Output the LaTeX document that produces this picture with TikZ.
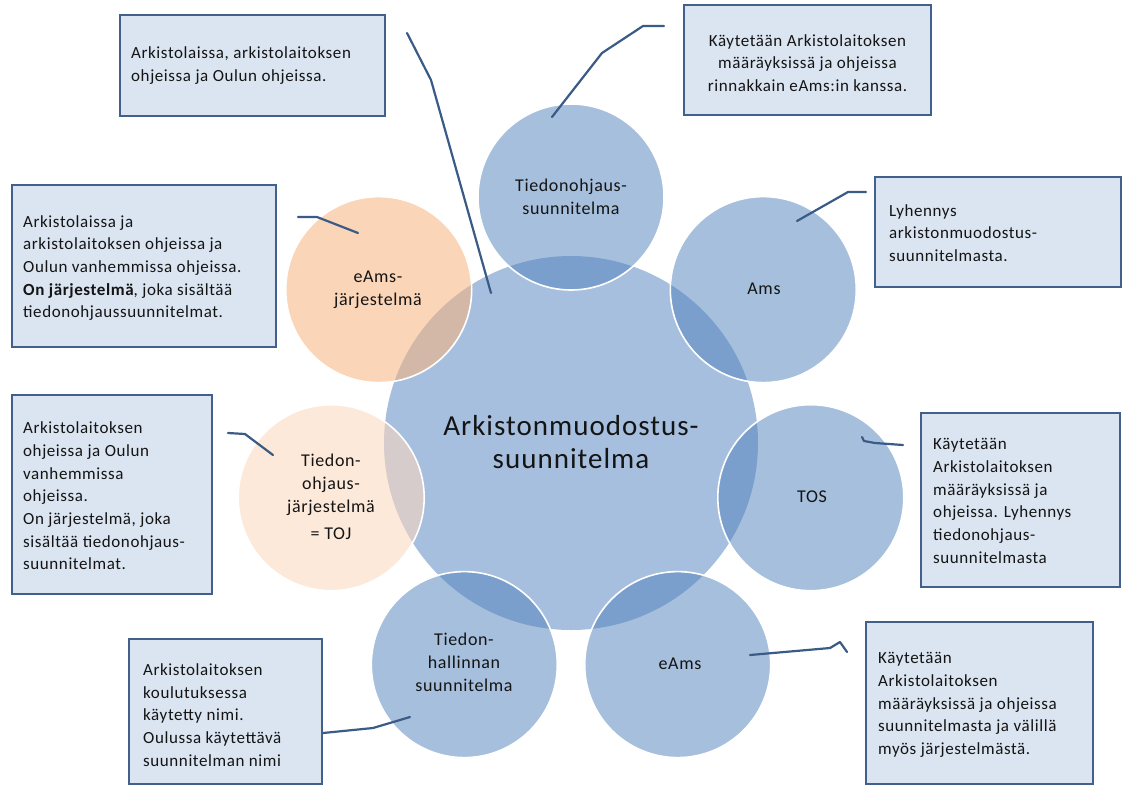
\documentclass[tikz,border=0pt]{standalone}
\usepackage{fontspec}
\setmainfont{Carlito}[LetterSpace=3.5]
\definecolor{hubfill}{HTML}{A7BFDE}
\definecolor{ringblue}{HTML}{4F81BD}
\definecolor{ringorange}{HTML}{F8B47C}
\definecolor{ringpeach}{HTML}{FBD7BC}
\definecolor{notefill}{HTML}{DBE5F1}
\definecolor{notedraw}{HTML}{41608C}
\definecolor{leader}{HTML}{3B5B87}
\definecolor{ink}{HTML}{141414}
\tikzset{
  hub/.style={circle, fill=hubfill, minimum size=374pt, inner sep=0pt},
  petal/.style={circle, minimum size=186pt, inner sep=0pt, draw=white, line width=1.6pt,
                fill opacity=0.5, text opacity=1, fill=ringblue},
  petalA/.style={petal, fill=ringorange, fill opacity=0.55},
  petalB/.style={petal, fill=ringpeach, fill opacity=0.55},
  plabel/.style={align=center, text=ink, font=\fontsize{18}{23}\selectfont, inner sep=0pt},
  notebox/.style={rectangle, draw=notedraw, line width=2.2pt, fill=notefill, inner sep=0pt},
  notetext/.style={align=left, anchor=west, text=ink, font=\fontsize{17}{22.7}\selectfont, inner sep=0pt},
  leaderline/.style={draw=leader, line width=2.2pt, line join=round, line cap=round}
}
\begin{document}
\begin{tikzpicture}[x=1pt,y=-1pt]
\useasboundingbox[fill=white] (0,0) rectangle (1124,785);

% central circle
\node[hub] (hub) at (571,443) {};

% surrounding circles
\node[petal]  (p1) at (571,197) {};
\node[petal]  (p2) at (763.3,289.6) {};
\node[petal]  (p3) at (810.8,497.7) {};
\node[petal]  (p4) at (677.7,664.6) {};
\node[petal]  (p5) at (464.3,664.6) {};
\node[petalB] (p6) at (331.2,497.7) {};
\node[petalA] (p7) at (378.7,289.6) {};

% circle labels
\node[align=center, text=ink, font=\fontsize{29}{33}\selectfont, inner sep=0pt] (hubtext) at (571,442) {Arkistonmuodostus-\\suunnitelma};
\node[plabel] (l1) at (571,197) {Tiedonohjaus-\\suunnitelma};
\node[plabel] (l2) at (764,289) {Ams};
\node[plabel] (l3) at (812,497) {TOS};
\node[plabel] (l4) at (680,664) {eAms};
\node[plabel] (l5) at (464,662) {Tiedon-\\hallinnan\\suunnitelma};
\node[plabel] (l6) at (331,497) {Tiedon-\\ohjaus-\\järjestelmä\\[4pt]= TOJ};
\node[plabel] (l7) at (378,290) {eAms-\\järjestelmä};

% leader lines
\coordinate (a1) at (407,33);  \coordinate (a2) at (431,80);  \coordinate (a3) at (491,293);
\coordinate (b1) at (664,26);  \coordinate (b2) at (643,26);  \coordinate (b3) at (602,53);  \coordinate (b4) at (552,117);
\coordinate (c1) at (866,192); \coordinate (c2) at (848,192); \coordinate (c3) at (797,221);
\coordinate (d1) at (903,445); \coordinate (d2) at (875,443); \coordinate (d3) at (864,441); \coordinate (d4) at (862,437);
\coordinate (e1) at (847,652); \coordinate (e2) at (840,642); \coordinate (e3) at (830,648); \coordinate (e4) at (750,655);
\coordinate (f1) at (323,733); \coordinate (f2) at (373,728); \coordinate (f3) at (410,717);
\coordinate (g1) at (298,217); \coordinate (g2) at (317,217); \coordinate (g3) at (358,233);
\coordinate (h1) at (228,433); \coordinate (h2) at (245,434); \coordinate (h3) at (273,455);

\draw[leaderline] (a1) -- (a2) -- (a3);
\draw[leaderline] (b1) -- (b2) -- (b3) -- (b4);
\draw[leaderline] (c1) -- (c2) -- (c3);
\draw[leaderline] (d1) -- (d2) -- (d3) -- (d4);
\draw[leaderline] (e1) -- (e2) -- (e3) -- (e4);
\draw[leaderline] (f1) -- (f2) -- (f3);
\draw[leaderline] (g1) -- (g2) -- (g3);
\draw[leaderline] (h1) -- (h2) -- (h3);

% note boxes
\node[notebox, minimum width=265pt, minimum height=101pt] (n1) at (252.5,65.5) {};
\node[notetext] (t1) at (131,65.5) {Arkistolaissa, arkistolaitoksen\\ohjeissa ja Oulun ohjeissa.};

\node[notebox, minimum width=247pt, minimum height=110pt] (n2) at (807.5,60) {};
\node[align=center, text=ink, font=\fontsize{17}{22.7}\selectfont, inner sep=0pt] (t2) at (807.5,63)
  {Käytetään Arkistolaitoksen\\määräyksissä ja ohjeissa\\rinnakkain eAms:in kanssa.};

\node[notebox, minimum width=264pt, minimum height=162pt] (n3) at (144,266) {};
\node[notetext] (t3) at (23,268) {Arkistolaissa ja\\arkistolaitoksen ohjeissa ja\\Oulun vanhemmissa ohjeissa.\\\textbf{On järjestelmä}, joka sisältää\\tiedonohjaussuunnitelmat.};

\node[notebox, minimum width=200pt, minimum height=199pt] (n4) at (112,494.5) {};
\node[notetext] (t4) at (23,496) {Arkistolaitoksen\\ohjeissa ja Oulun\\vanhemmissa\\ohjeissa.\\On järjestelmä, joka\\sisältää tiedonohjaus-\\suunnitelmat.};

\node[notebox, minimum width=246pt, minimum height=110pt] (n5) at (998,232) {};
\node[notetext] (t5) at (889,233) {Lyhennys\\arkistonmuodostus-\\suunnitelmasta.};

\node[notebox, minimum width=199pt, minimum height=174pt] (n6) at (1020.5,500) {};
\node[notetext] (t6) at (933,501) {Käytetään\\Arkistolaitoksen\\määräyksissä ja\\ohjeissa. Lyhennys\\tiedonohjaus-\\suunnitelmasta};

\node[notebox, minimum width=193pt, minimum height=145pt] (n7) at (225.5,711.5) {};
\node[notetext] (t7) at (143,715) {Arkistolaitoksen\\koulutuksessa\\käytetty nimi.\\Oulussa käytettävä\\suunnitelman nimi};

\node[notebox, minimum width=227pt, minimum height=162pt] (n8) at (979.5,703) {};
\node[notetext] (t8) at (878,705) {Käytetään\\Arkistolaitoksen\\määräyksissä ja ohjeissa\\suunnitelmasta ja välillä\\myös järjestelmästä.};
\end{tikzpicture}
\end{document}
